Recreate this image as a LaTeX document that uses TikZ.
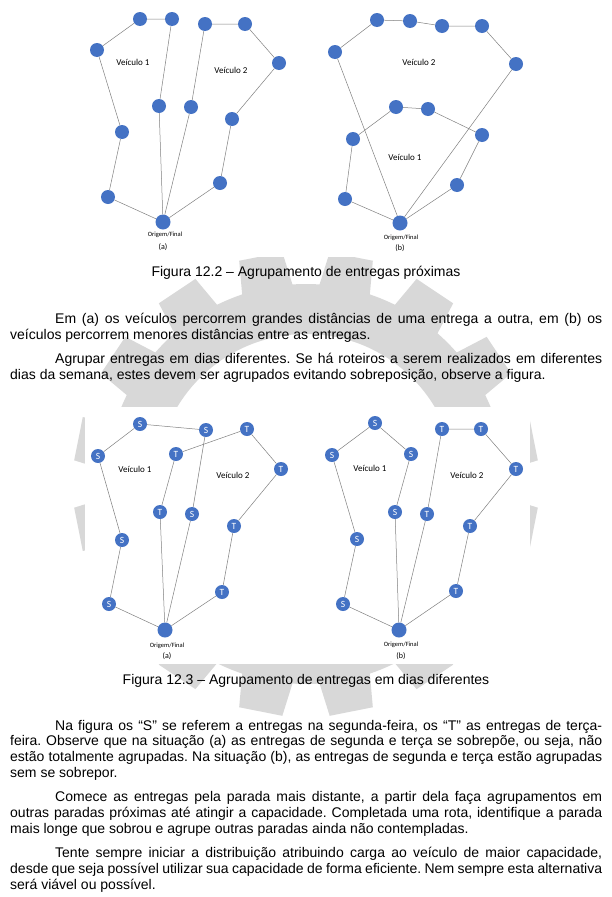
\documentclass[tikz,border=0pt]{standalone}
\usepackage{fontspec}
\setmainfont{Liberation Sans}
\newfontfamily\calibri{Carlito}
\definecolor{azul}{HTML}{4472C4}
\definecolor{cinza}{HTML}{808080}
\definecolor{marca}{HTML}{D8D8D8}
\frenchspacing
\begin{document}
\begin{tikzpicture}[x=1pt, y=-1pt]
    \useasboundingbox (0,0) rectangle (612,897);

    % --- ESTILOS ---
    \tikzset{parada/.style={circle, fill=azul, minimum size=14pt, inner sep=0pt, text=white, font=\calibri\fontsize{9.5}{9.5}\selectfont}}
    \tikzset{origem/.style={parada, minimum size=15pt}}
    \tikzset{rota/.style={draw=cinza, line width=0.5pt}}
    \tikzset{rotulo/.style={inner sep=0pt, font=\calibri\fontsize{9}{9}\selectfont}}
    \tikzset{pie/.style={inner sep=0pt, font=\calibri\fontsize{6.5}{6.5}\selectfont}}
    \tikzset{letra/.style={inner sep=0pt, font=\calibri\fontsize{8}{8}\selectfont}}
    \tikzset{corpo/.style={anchor=base west, inner sep=0pt, font=\fontsize{14}{16}\selectfont}}
    \tikzset{leyenda/.style={anchor=base, inner sep=0pt, font=\fontsize{14}{16}\selectfont}}

    % --- MARCA DE AGUA (engranaje) ---
    \coordinate (Gear) at (306,484);
    \fill[marca, even odd rule] (Gear) circle[radius=200] (Gear) circle[radius=150];
    \foreach \ang in {11.25,33.75,...,360} {
        \fill[marca, rotate around={\ang:(Gear)}] (501,458) -- (538,462) -- (538,506) -- (501,510) -- cycle;
    }
    % Fondos blancos de las figuras
    \fill[white] (0,0) rectangle (612,257);
    \fill[white] (85,407) rectangle (530,664);

    % --- FIGURA 12.2 (a) ---
    \node[origem] (Oa) at (163,222) {};
    \node[parada] (A1) at (108,197) {};
    \node[parada] (A2) at (122,132) {};
    \node[parada] (A3) at (97,50) {};
    \node[parada] (A4) at (140,19) {};
    \node[parada] (A5) at (172,19) {};
    \node[parada] (A6) at (159,106) {};
    \node[parada] (B1) at (191,107) {};
    \node[parada] (B2) at (205,24) {};
    \node[parada] (B3) at (245,24) {};
    \node[parada] (B4) at (279,63) {};
    \node[parada] (B5) at (232,119) {};
    \node[parada] (B6) at (220,183) {};
    \draw[rota] (Oa) -- (A1) -- (A2) -- (A3) -- (A4) -- (A5) -- (A6) -- (Oa);
    \draw[rota] (Oa) -- (B1) -- (B2) -- (B3) -- (B4) -- (B5) -- (B6) -- (Oa);
    \node[rotulo] (va1) at (133,62) {Veículo 1};
    \node[rotulo] (va2) at (231,70) {Veículo 2};
    \node[pie] (oa) at (165,235) {Origem/Final};
    \node[letra] (la) at (163,247) {(a)};

    % --- FIGURA 12.2 (b) ---
    \node[origem] (Ob) at (400,223) {};
    \node[parada] (C1) at (345,199) {};
    \node[parada] (C2) at (353,139) {};
    \node[parada] (C3) at (396,107) {};
    \node[parada] (C4) at (428,109) {};
    \node[parada] (C5) at (482,135) {};
    \node[parada] (C6) at (457,185) {};
    \node[parada] (D1) at (335,52) {};
    \node[parada] (D2) at (377,20) {};
    \node[parada] (D3) at (410,21) {};
    \node[parada] (D4) at (442,26) {};
    \node[parada] (D5) at (482,26) {};
    \node[parada] (D6) at (516,64) {};
    \draw[rota] (Ob) -- (C1) -- (C2) -- (C3) -- (C4) -- (C5) -- (C6) -- (Ob);
    \draw[rota] (Ob) -- (D1) -- (D2) -- (D3) -- (D4) -- (D5) -- (D6) -- (Ob);
    \node[rotulo] (vb2) at (419,62) {Veículo 2};
    \node[rotulo] (vb1) at (405,157) {Veículo 1};
    \node[pie] (ob) at (401,237.5) {Origem/Final};
    \node[letra] (lb) at (400,248) {(b)};

    \node[leyenda] (fig2) at (306,276) {Figura 12.2 – Agrupamento de entregas próximas};

    % --- TEXTO ---
    \node[corpo] (t1) at (55,323) {\makebox[547pt][s]{Em (a) os veículos percorrem grandes distâncias de uma entrega a outra, em (b) os}};
    \node[corpo] (t2) at (10,339) {veículos percorrem menores distâncias entre as entregas.};
    \node[corpo] (t3) at (55,363) {\makebox[547pt][s]{Agrupar entregas em dias diferentes. Se há roteiros a serem realizados em diferentes}};
    \node[corpo] (t4) at (10,379) {dias da semana, estes devem ser agrupados evitando sobreposição, observe a figura.};

    % --- FIGURA 12.3 (a) ---
    \node[origem] (Oc) at (165,630) {};
    \node[parada] (E1) at (109,604) {S};
    \node[parada] (E2) at (122,540) {S};
    \node[parada] (E3) at (98,456) {S};
    \node[parada] (E4) at (140,424) {S};
    \node[parada] (E5) at (206,430) {S};
    \node[parada] (E6) at (192,514) {S};
    \node[parada] (F1) at (160,512) {T};
    \node[parada] (F2) at (176,454) {T};
    \node[parada] (F3) at (247,429) {T};
    \node[parada] (F4) at (281,469) {T};
    \node[parada] (F5) at (234,526) {T};
    \node[parada] (F6) at (222,592) {T};
    \draw[rota] (Oc) -- (E1) -- (E2) -- (E3) -- (E4) -- (E5) -- (E6) -- (Oc);
    \draw[rota] (Oc) -- (F1) -- (F2) -- (F3) -- (F4) -- (F5) -- (F6) -- (Oc);
    \node[rotulo] (vc1) at (135,469) {Veículo 1};
    \node[rotulo] (vc2) at (233,475) {Veículo 2};
    \node[pie] (oc) at (167,645.5) {Origem/Final};
    \node[letra] (lc) at (167,656) {(a)};

    % --- FIGURA 12.3 (b) ---
    \node[origem] (Od) at (399,630) {};
    \node[parada] (G1) at (343,604) {S};
    \node[parada] (G2) at (357,539) {S};
    \node[parada] (G3) at (332,455) {S};
    \node[parada] (G4) at (375,423) {S};
    \node[parada] (G5) at (411,454) {S};
    \node[parada] (G6) at (395,512) {S};
    \node[parada] (H1) at (427,514) {T};
    \node[parada] (H2) at (442,429) {T};
    \node[parada] (H3) at (481,429) {T};
    \node[parada] (H4) at (516,469) {T};
    \node[parada] (H5) at (470,526) {T};
    \node[parada] (H6) at (456,591) {T};
    \draw[rota] (Od) -- (G1) -- (G2) -- (G3) -- (G4) -- (G5) -- (G6) -- (Od);
    \draw[rota] (Od) -- (H1) -- (H2) -- (H3) -- (H4) -- (H5) -- (H6) -- (Od);
    \node[rotulo] (vd1) at (370,468) {Veículo 1};
    \node[rotulo] (vd2) at (467,475) {Veículo 2};
    \node[pie] (od) at (401,644.5) {Origem/Final};
    \node[letra] (ld) at (401,656) {(b)};

    \node[leyenda] (fig3) at (306,684) {Figura 12.3 – Agrupamento de entregas em dias diferentes};

    % --- TEXTO FINAL ---
    \node[corpo] (u1) at (55,730) {\makebox[547pt][s]{Na figura os “S” se referem a entregas na segunda-feira, os “T” as entregas de terça-}};
    \node[corpo] (u2) at (10,745.8) {\makebox[592pt][s]{feira. Observe que na situação (a) as entregas de segunda e terça se sobrepõe, ou seja, não}};
    \node[corpo] (u3) at (10,761.6) {\makebox[592pt][s]{estão totalmente agrupadas. Na situação (b), as entregas de segunda e terça estão agrupadas}};
    \node[corpo] (u4) at (10,777.4) {sem se sobrepor.};
    \node[corpo] (u5) at (55,801.7) {\makebox[547pt][s]{Comece as entregas pela parada mais distante, a partir dela faça agrupamentos em}};
    \node[corpo] (u6) at (10,817.5) {\makebox[592pt][s]{outras paradas próximas até atingir a capacidade. Completada uma rota, identifique a parada}};
    \node[corpo] (u7) at (10,833.3) {mais longe que sobrou e agrupe outras paradas ainda não contempladas.};
    \node[corpo] (u8) at (55,857.6) {\makebox[547pt][s]{Tente sempre iniciar a distribuição atribuindo carga ao veículo de maior capacidade,}};
    \node[corpo] (u9) at (10,873.4) {\makebox[592pt][s]{desde que seja possível utilizar sua capacidade de forma eficiente. Nem sempre esta alternativa}};
    \node[corpo] (u10) at (10,889.2) {será viável ou possível.};

\end{tikzpicture}
\end{document}
